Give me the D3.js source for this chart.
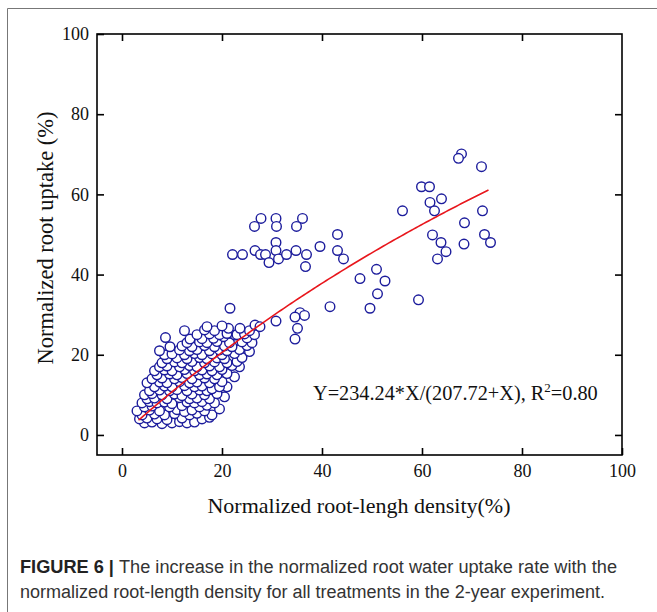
<!doctype html>
<html lang="en">
<head>
<meta charset="utf-8">
<title>Figure 6</title>
<script src="https://cdnjs.cloudflare.com/ajax/libs/d3/7.8.5/d3.min.js"></script>
<style>
  body { margin: 0; background: #fff; }
</style>
</head>
<body>
<svg width="657" height="612" id="svg"></svg>
<script>

// values: [root-length density %, root uptake %]
var densePoints = [
  [4.5,3],[6,3.2],[8,2.8],[10,3],[11.5,3.3],[13,3],[14.5,3.2],
  [3.5,4],[5,4.2],[7,4],[9,3.8],[12,4.2],[16,4],[17.5,4.4],
  [4,5],[6.5,5.2],[8.5,5],[10.5,5.3],[13.5,5],[15,5.4],[18,5],
  [3,6],[5.5,6.2],[7.5,6],[11,6.3],[12.5,5.8],[14,6.2],[16.5,6],[19.5,6.5],
  [4.5,7],[6,7.2],[9.5,7],[12,7.3],[15.5,7],[17,7.4],
  [4,8],[5.5,8.3],[7,8],[8.5,8.2],[10,7.8],[13,8.2],[14.5,8],[16,8.3],[18.5,8],
  [5,9],[6.5,9.2],[9,9],[11.5,9.3],[13.5,9],[15,9.2],[17.5,9],[20.5,9.5],
  [4.5,10],[6,10.3],[8,10],[10.5,10.2],[12,9.8],[14,10.2],[16.5,10],[19,10.3],
  [5.5,11],[7.5,11.2],[9.5,11],[11,11.3],[13,11],[15.5,11.2],[17,11],[18,11.5],[21,12],
  [6.5,12],[8.5,12.2],[10,12],[12.5,12.3],[14.5,12],[16,12.2],[19.5,12],
  [5,13],[7.5,13.2],[9,13],[11.5,13.3],[13.5,13],[15,13.2],[17.5,13],[20,13.3],
  [6,14],[8,14.2],[10.5,14],[12,14.3],[14,14],[16.5,14.2],[18.5,14],[22.5,14.5],
  [7,15],[9.5,15.2],[11,15],[13,15.3],[15.5,15],[17,15.2],[19,15],[21,15.3],
  [6.5,16],[8.5,16.2],[10,16],[12.5,16.3],[14.5,16],[16,16.2],[18,16],[20,16.3],[23.5,17],
  [7.5,17],[9,17.2],[11.5,17],[13.5,17.3],[15,17],[17.5,17.2],[19.5,17],[22,17.3],
  [8,18],[10.5,18.2],[12,18],[14,18.3],[16.5,18],[18.5,18.2],[21,18],[23,18.3],
  [9,19],[11,19.2],[13,19],[15.5,19.3],[17,19],[19,19.2],[20.5,19],[24,19.3],
  [8.5,20],[10,20.2],[12.5,20],[14.5,20.3],[16,20],[18,20.2],[20,20],[22.5,20.3],[25.5,20.8],
  [7.5,21],[11.5,21.2],[13.5,21],[15,21.3],[17.5,21],[19.5,21.2],[21,21],[23.5,21.3],
  [9.6,22],[12,22.2],[14,22],[16.5,22.3],[18.5,22],[20.5,22.2],[22,22],[25,22.3],
  [13,23],[15.5,23.2],[17,23],[19,23.3],[21.5,23],[24,23.2],[26,23],
  [8.7,24.3],[13.6,23.9],[16,24],[18.3,24.1],[20.3,24.5],[22.6,24.9],[25,24.2],
  [15,25],[17.5,25.2],[19.5,25],[21,25.3],[23,25],[24.5,25.2],[26.5,25],
  [12.5,26],[16.5,26.2],[18.5,26],[21.3,26.6],[23.6,26.6],[25.5,26],
  [17,27],[20,27.2],[26.6,27.4],[27.6,27],
  [21.6,31.6]
];

var scatteredPoints = [
  [27.8,54],[26.5,52],[30.8,54],[30.9,52],[36.1,54],[34.9,52],[43.1,50],
  [30.8,48],[22.1,45],[24.1,45],[26.6,46],[27.7,45],[28.7,45],[30.8,46],
  [29.4,43],[31.3,43.9],[32.9,45],[34.8,46],[36.9,45],[36.7,42],[39.6,47],
  [43.1,46],[44.3,43.9],[47.6,39],[50.9,41.3],[51.1,35.2],[49.6,31.6],
  [41.6,32],[35.6,30.5],[36.5,29.8],[34.6,29.4],[35.1,26.6],[30.8,28.4],
  [34.6,23.9],[52.6,38.4],[59.3,33.7],
  [67.9,70.1],[67.3,69],[71.9,66.9],[59.9,61.9],[61.5,61.9],[63.9,58.9],
  [61.6,58],[62.5,55.9],[56.1,55.9],[72.1,55.9],[68.5,52.9],[62.1,49.9],
  [63.8,48],[64.8,45.7],[63.1,43.9],[68.4,47.6],[72.5,50],[73.7,48]
];

// fitted curve as printed on the figure
var fitA = 234.24;
var fitB = 207.72;
var fitRange = [3.3, 73.5];
var fitLabel = 'Y=234.24*X/(207.72+X), R';

var xTicks = [0, 20, 40, 60, 80, 100];
var yTicks = [0, 20, 40, 60, 80, 100];

var captionLines = [
  ['FIGURE 6 | ', 'The increase in the normalized root water uptake rate with the'],
  ['', 'normalized root-length density for all treatments in the 2-year experiment.']
];
var captionWidths = [597, 585];

var svg = d3.select('#svg');

var pLeft = 97, pRight = 622, pTop = 34, pBottom = 455;

var x = d3.scaleLinear().domain([-5, 100]).range([pLeft, pRight]);
var y = d3.scaleLinear().domain([-5, 100]).range([pBottom, pTop]);

// outer figure border (top and left only)
svg.append('path')
  .attr('d', 'M7.5,612V8.5H657')
  .attr('fill', 'none')
  .attr('stroke', '#777')
  .attr('stroke-width', 1);

var serif = '"Liberation Serif", "Times New Roman", serif';

// points
var allPoints = densePoints.concat(scatteredPoints);
svg.append('g')
  .selectAll('circle')
  .data(allPoints)
  .enter()
  .append('circle')
  .attr('cx', function(d) { return x(d[0]); })
  .attr('cy', function(d) { return y(d[1]); })
  .attr('r', 4.8)
  .attr('fill', '#fff')
  .attr('stroke', '#1c1c9c')
  .attr('stroke-width', 1.4);

// fitted line
var fitX = d3.range(fitRange[0], fitRange[1] + 0.01, 0.5);
var line = d3.line()
  .x(function(d) { return x(d); })
  .y(function(d) { return y(fitA * d / (fitB + d)); });

svg.append('path')
  .datum(fitX)
  .attr('d', line)
  .attr('fill', 'none')
  .attr('stroke', '#e8161c')
  .attr('stroke-width', 1.6);

// frame
svg.append('rect')
  .attr('x', pLeft).attr('y', pTop)
  .attr('width', pRight - pLeft).attr('height', pBottom - pTop)
  .attr('fill', 'none')
  .attr('stroke', '#000')
  .attr('stroke-width', 1.6);

function styleAxis(g) {
  g.select('.domain').remove();
  g.selectAll('.tick line').attr('stroke', '#000').attr('stroke-width', 1.6);
  g.selectAll('.tick text')
    .attr('fill', '#111')
    .style('font-family', serif)
    .style('font-size', '18px');
}

svg.append('g')
  .attr('transform', 'translate(0,' + pBottom + ')')
  .call(d3.axisBottom(x).tickValues(xTicks).tickSize(-7).tickPadding(9).tickFormat(d3.format('d')))
  .call(styleAxis);

svg.append('g')
  .attr('transform', 'translate(0,' + pTop + ')')
  .call(d3.axisTop(x).tickValues(xTicks.slice(0, -1)).tickSize(-7).tickFormat(''))
  .call(styleAxis);

svg.append('g')
  .attr('transform', 'translate(' + pLeft + ',0)')
  .call(d3.axisLeft(y).tickValues(yTicks).tickSize(-7).tickPadding(8).tickFormat(d3.format('d')))
  .call(styleAxis);

svg.append('g')
  .attr('transform', 'translate(' + pRight + ',0)')
  .call(d3.axisRight(y).tickValues(yTicks.slice(0, -1)).tickSize(-7).tickFormat(''))
  .call(styleAxis);

// axis titles
svg.append('text')
  .attr('x', 359)
  .attr('y', 513)
  .attr('text-anchor', 'middle')
  .style('font-family', serif)
  .style('font-size', '22px')
  .attr('fill', '#111')
  .text('Normalized root-lengh density(%)');

svg.append('text')
  .attr('transform', 'translate(53,238) rotate(-90)')
  .attr('text-anchor', 'middle')
  .style('font-family', serif)
  .style('font-size', '22.5px')
  .attr('fill', '#111')
  .text('Normalized root uptake (%)');

// equation
var eq = svg.append('text')
  .attr('x', 313)
  .attr('y', 400)
  .style('font-family', serif)
  .style('font-size', '20.3px')
  .attr('fill', '#111');
eq.append('tspan').text(fitLabel);
eq.append('tspan').attr('dy', -8).style('font-size', '13px').text('2');
eq.append('tspan').attr('dy', 8).text('=0.80');

// caption
var cap = svg.append('g')
  .style('font-family', '"Liberation Sans", Arial, sans-serif')
  .style('font-size', '18px')
  .attr('fill', '#333');

captionLines.forEach(function(l, i) {
  var t = cap.append('text')
    .attr('x', 20).attr('y', 573 + i * 25)
    .attr('textLength', captionWidths[i])
    .attr('lengthAdjust', 'spacingAndGlyphs');
  if (l[0]) t.append('tspan').style('font-weight', 'bold').attr('fill', '#222').text(l[0]);
  t.append('tspan').text(l[1]);
});

</script>
</body>
</html>
